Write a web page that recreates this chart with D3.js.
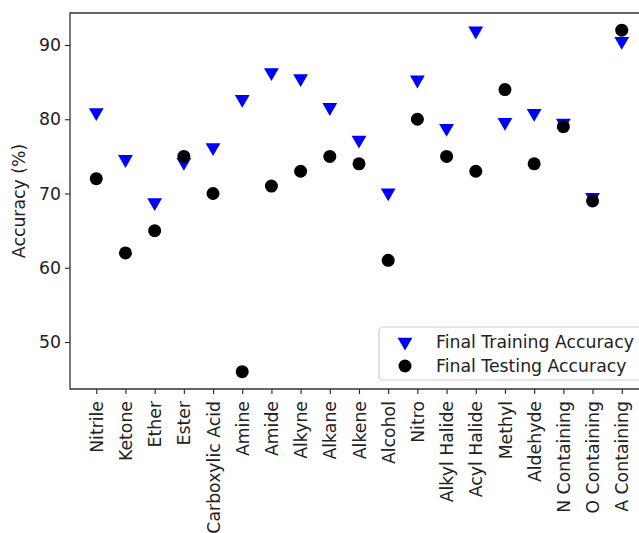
<!DOCTYPE html>
<html>
<head>
<meta charset="utf-8">
<script src="https://cdn.jsdelivr.net/npm/d3@7"></script>
<style>
  body { margin: 0; background: #fff; }
  svg { display: block; font-family: "DejaVu Sans", sans-serif; }
</style>
</head>
<body>
<svg id="chart" width="639" height="533"></svg>
<script>
// categories along the x axis
var groups = ["Nitrile", "Ketone", "Ether", "Ester", "Carboxylic Acid", "Amine", "Amide",
  "Alkyne", "Alkane", "Alkene", "Alcohol", "Nitro", "Alkyl Halide", "Acyl Halide",
  "Methyl", "Aldehyde", "N Containing", "O Containing", "A Containing"];

// final training accuracy (%)
var trainAcc = [80.9, 74.6, 68.8, 74.2, 76.2, 82.7, 86.3, 85.5, 81.6, 77.2,
  70.1, 85.3, 78.8, 91.9, 79.6, 80.8, 79.5, 69.5, 90.5];

// final testing accuracy (%)
var testAcc = [72, 62, 65, 75, 70, 46, 71, 73, 75, 74,
  61, 80, 75, 73, 84, 74, 79, 69, 92];

var yTicks = [50, 60, 70, 80, 90];

var svg = d3.select("#chart");
var mLeft = 70, mRight = 648, mTop = 13, mBottom = 389;
var fontSize = "17.3px";

// matplotlib style margins: 5% of the index range on each side
var x = d3.scaleLinear().domain([-0.9, groups.length - 1 + 0.9]).range([mLeft, mRight]);
var y = d3.scaleLinear().domain([43.67, 94.31]).range([mBottom, mTop]);

// y axis
var yAxis = svg.append("g")
  .attr("transform", "translate(" + mLeft + ",0)")
  .call(d3.axisLeft(y).tickValues(yTicks).tickSize(5).tickPadding(4));
yAxis.select(".domain").remove();
yAxis.selectAll("text").attr("font-size", fontSize).attr("fill", "#222").attr("font-family", "DejaVu Sans");
yAxis.selectAll("line").attr("stroke", "#222").attr("stroke-width", 1.1);

// x axis with rotated labels
var xAxis = svg.append("g")
  .attr("transform", "translate(0," + mBottom + ")")
  .call(d3.axisBottom(x).tickValues(d3.range(groups.length))
    .tickFormat(function(i) { return groups[i]; }).tickSize(5));
xAxis.select(".domain").remove();
xAxis.selectAll("line").attr("stroke", "#222").attr("stroke-width", 1.1);
xAxis.selectAll("text")
  .attr("font-size", fontSize)
  .attr("fill", "#222")
  .attr("font-family", "DejaVu Sans")
  .attr("transform", "rotate(-90)")
  .attr("text-anchor", "end")
  .attr("x", -12)
  .attr("y", 0)
  .attr("dy", "0.35em");

// spines (left, top, bottom; right one falls outside the picture)
svg.append("path")
  .attr("d", "M" + mRight + "," + mTop + "H" + mLeft + "V" + mBottom + "H" + mRight)
  .attr("fill", "none")
  .attr("stroke", "#333")
  .attr("stroke-width", 1.3);

// y label
svg.append("text")
  .attr("transform", "translate(25," + ((mTop + mBottom) / 2) + ") rotate(-90)")
  .attr("text-anchor", "middle")
  .attr("font-size", fontSize)
  .attr("fill", "#222")
  .text("Accuracy (%)");

var tri = d3.symbol().type(d3.symbolTriangle).size(95);

// training markers (downward triangles)
svg.append("g").selectAll("path")
  .data(trainAcc)
  .join("path")
  .attr("d", tri)
  .attr("transform", function(d, i) { return "translate(" + x(i) + "," + y(d) + ") rotate(180)"; })
  .attr("fill", "#0000ff");

// testing markers (circles)
svg.append("g").selectAll("circle")
  .data(testAcc)
  .join("circle")
  .attr("cx", function(d, i) { return x(i); })
  .attr("cy", function(d) { return y(d); })
  .attr("r", 6.5)
  .attr("fill", "#000");

// legend
var legend = svg.append("g").attr("transform", "translate(379,327)");
legend.append("rect")
  .attr("width", 270).attr("height", 53).attr("rx", 4)
  .attr("fill", "#fff").attr("fill-opacity", 0.8)
  .attr("stroke", "#d0d0d0").attr("stroke-width", 1.2);
var items = [
  { label: "Final Training Accuracy", kind: "tri" },
  { label: "Final Testing Accuracy", kind: "circle" }
];
items.forEach(function(it, i) {
  var cy = 15 + i * 24;
  if (it.kind === "tri") {
    legend.append("path").attr("d", tri)
      .attr("transform", "translate(26," + cy + ") rotate(180)")
      .attr("fill", "#0000ff");
  } else {
    legend.append("circle").attr("cx", 26).attr("cy", cy).attr("r", 6.5).attr("fill", "#000");
  }
  legend.append("text")
    .attr("x", 57).attr("y", cy).attr("dy", "0.35em")
    .attr("font-size", fontSize).attr("fill", "#222")
    .text(it.label);
});
</script>
</body>
</html>
